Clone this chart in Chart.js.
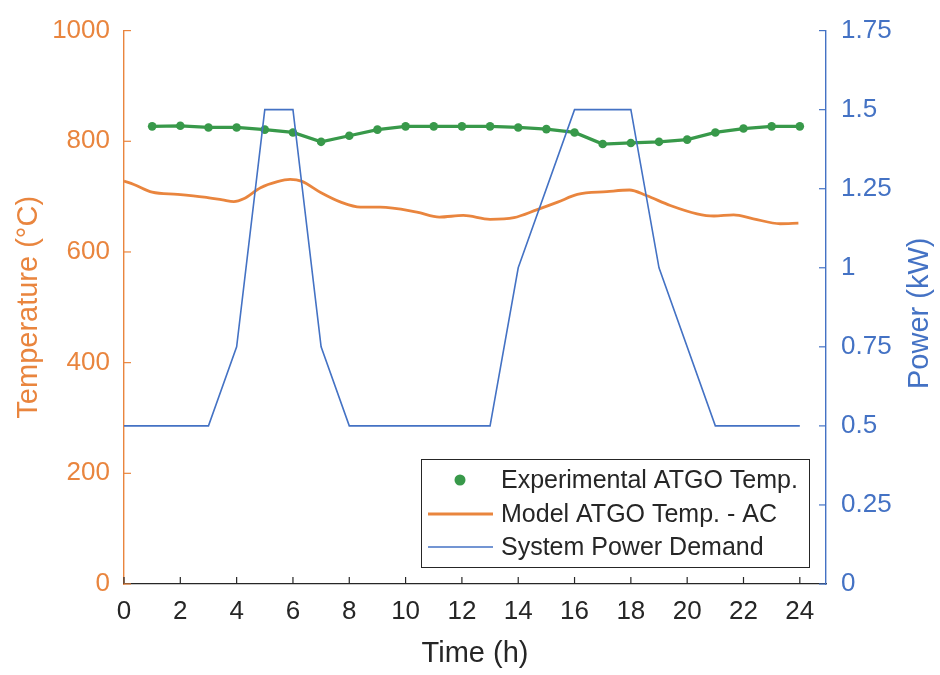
<!DOCTYPE html>
<html>
<head>
<meta charset="utf-8">
<script src="https://cdn.jsdelivr.net/npm/chart.js@4.4.1/dist/chart.umd.min.js"></script>
<style>
  body { margin: 0; background: #fff; }
</style>
</head>
<body>
<canvas id="grafico" width="940" height="675"></canvas>
<script>
// datos
const expHoras = [1, 2, 3, 4, 5, 6, 7, 8, 9, 10, 11, 12, 13, 14, 15, 16, 17, 18, 19, 20, 21, 22, 23, 24];
const expTemp = [827, 828, 825, 825, 821, 816, 799, 810, 821, 827, 827, 827, 827, 825, 822, 816, 795, 797, 799, 803, 816, 823, 827, 827];

const modeloHoras = [0, 0.35, 1, 1.9, 2.85, 3.5, 3.9, 4.25, 4.85, 5.45, 5.9, 6.3, 7, 7.7, 8.4, 9.1, 10.4, 11.2, 12.05, 13, 13.85, 14.65, 15.4, 16.1, 17.15, 17.95, 18.55, 19.4, 20.35, 20.95, 21.65, 22.35, 23.3, 23.95];
const modeloTemp = [728, 722, 708, 704, 699, 694, 691, 696, 716, 727, 731, 728, 707, 690, 681, 681, 672, 663, 666, 659, 662, 676, 690, 704, 709, 712, 702, 684, 669, 665, 667, 660, 651, 652];

const potenciaHoras = [0, 3, 4, 5, 6, 7, 8, 13, 14, 16, 18, 19, 21, 24];
const potenciaKW = [0.5, 0.5, 0.75, 1.5, 1.5, 0.75, 0.5, 0.5, 1.0, 1.5, 1.5, 1.0, 0.5, 0.5];

const ticksX = [0, 2, 4, 6, 8, 10, 12, 14, 16, 18, 20, 22, 24];
const ticksTemp = [0, 200, 400, 600, 800, 1000];
const ticksPot = [0, 0.25, 0.5, 0.75, 1, 1.25, 1.5, 1.75];

const NARANJA = "#E9853E";
const AZUL = "#4472C4";
const VERDE = "#38994A";
const NEGRO = "#262626";
const fuente = "'Liberation Sans', Arial, Helvetica, sans-serif";

const pares = (xs, ys) => xs.map((x, i) => ({ x: x, y: ys[i] }));
const sinFormato = (v) => String(v);

// marcas de los ejes hacia adentro (estilo MATLAB) + titulo del eje derecho
const marcasInternas = {
	id: "marcasInternas",
	afterDraw(chart) {
		const ctx = chart.ctx;
		const { x, yT, yP } = chart.scales;
		const largo = 7;
		ctx.save();
		ctx.lineWidth = 1.2;
		ctx.strokeStyle = NEGRO;
		x.ticks.forEach((t) => {
			const px = x.getPixelForValue(t.value);
			ctx.beginPath();
			ctx.moveTo(px, x.top);
			ctx.lineTo(px, x.top - largo);
			ctx.stroke();
		});
		ctx.strokeStyle = NARANJA;
		yT.ticks.forEach((t) => {
			const py = yT.getPixelForValue(t.value);
			ctx.beginPath();
			ctx.moveTo(yT.right, py);
			ctx.lineTo(yT.right + largo, py);
			ctx.stroke();
		});
		ctx.strokeStyle = AZUL;
		yP.ticks.forEach((t) => {
			const py = yP.getPixelForValue(t.value);
			ctx.beginPath();
			ctx.moveTo(yP.left, py);
			ctx.lineTo(yP.left - largo, py);
			ctx.stroke();
		});
		// titulo derecho leido de abajo hacia arriba, como en MATLAB
		const yc = (yP.top + yP.bottom) / 2 + 6;
		ctx.translate(920, yc);
		ctx.rotate(-Math.PI / 2);
		ctx.font = "29px " + fuente;
		ctx.fillStyle = AZUL;
		ctx.textAlign = "center";
		ctx.textBaseline = "middle";
		ctx.fillText("Power (kW)", 0, 0);
		ctx.restore();
	},
};

// leyenda dentro del area del grafico, abajo a la derecha
const leyendaInterna = {
	id: "leyendaInterna",
	afterDraw(chart) {
		const ctx = chart.ctx;
		const caja = { x: 421.5, y: 459.5, w: 388, h: 108 };
		const filas = [480, 514, 547];
		ctx.save();
		ctx.fillStyle = "#fff";
		ctx.fillRect(caja.x, caja.y, caja.w, caja.h);
		ctx.strokeStyle = NEGRO;
		ctx.lineWidth = 1;
		ctx.strokeRect(caja.x, caja.y, caja.w, caja.h);
		ctx.font = "25px " + fuente;
		ctx.textBaseline = "middle";
		chart.data.datasets.forEach((ds, i) => {
			const y = filas[i];
			if (ds.pointRadius > 0) {
				ctx.fillStyle = ds.borderColor;
				ctx.beginPath();
				ctx.arc(460, y, 5.5, 0, Math.PI * 2);
				ctx.fill();
			} else {
				ctx.strokeStyle = ds.borderColor;
				ctx.lineWidth = ds.borderWidth;
				ctx.beginPath();
				ctx.moveTo(428, y);
				ctx.lineTo(493, y);
				ctx.stroke();
			}
			ctx.fillStyle = NEGRO;
			ctx.fillText(ds.label, 501, y + 1);
		});
		ctx.restore();
	},
};

const config = {
	type: "line",
	data: {
		datasets: [
			{
				label: "Experimental ATGO Temp.",
				data: pares(expHoras, expTemp),
				yAxisID: "yT",
				borderColor: VERDE,
				backgroundColor: VERDE,
				borderWidth: 3.2,
				pointRadius: 4.3,
				pointHoverRadius: 4.3,
				pointBorderWidth: 0,
				order: 1,
			},
			{
				label: "Model ATGO Temp. - AC",
				data: pares(modeloHoras, modeloTemp),
				yAxisID: "yT",
				borderColor: NARANJA,
				borderWidth: 2.8,
				pointRadius: 0,
				cubicInterpolationMode: "monotone",
				order: 2,
			},
			{
				label: "System Power Demand",
				data: pares(potenciaHoras, potenciaKW),
				yAxisID: "yP",
				borderColor: AZUL,
				borderWidth: 1.6,
				pointRadius: 0,
				order: 0,
			},
		],
	},
	options: {
		responsive: false,
		animation: false,
		layout: { padding: { top: 20, left: 0, right: 0, bottom: 0 } },
		plugins: { legend: { display: false }, tooltip: { enabled: false } },
		scales: {
			x: {
				type: "linear",
				min: 0,
				max: 24.93,
				afterBuildTicks: (s) => { s.ticks = ticksX.map((v) => ({ value: v })); },
				afterFit: (s) => { s.height = 91; },
				grid: { display: false, drawTicks: false },
				border: { color: NEGRO, width: 1.3 },
				ticks: { color: NEGRO, font: { size: 26, family: fuente }, padding: 12, maxRotation: 0, autoSkip: false, callback: sinFormato },
				title: { display: true, text: "Time (h)", color: NEGRO, font: { size: 29, family: fuente }, padding: { top: 0, bottom: 4 } },
			},
			yT: {
				type: "linear",
				position: "left",
				min: 0,
				max: 1000,
				afterBuildTicks: (s) => { s.ticks = ticksTemp.map((v) => ({ value: v })); },
				afterFit: (s) => { s.width = 124; },
				grid: { display: false, drawTicks: false },
				border: { color: NARANJA, width: 1.4 },
				ticks: { color: NARANJA, font: { size: 26, family: fuente }, padding: 14, callback: sinFormato },
				title: { display: true, text: "Temperature (°C)", color: NARANJA, font: { size: 29, family: fuente }, padding: { top: 12, bottom: 0 } },
			},
			yP: {
				type: "linear",
				position: "right",
				min: 0,
				max: 1.75,
				afterBuildTicks: (s) => { s.ticks = ticksPot.map((v) => ({ value: v })); },
				afterFit: (s) => { s.width = 114; },
				grid: { display: false, drawTicks: false },
				border: { color: AZUL, width: 1.4 },
				ticks: { color: AZUL, font: { size: 26, family: fuente }, padding: 15, callback: sinFormato },
				title: { display: false },
			},
		},
	},
	plugins: [marcasInternas, leyendaInterna],
};

window.graficoATGO = new Chart(document.getElementById("grafico"), config);
</script>
</body>
</html>
